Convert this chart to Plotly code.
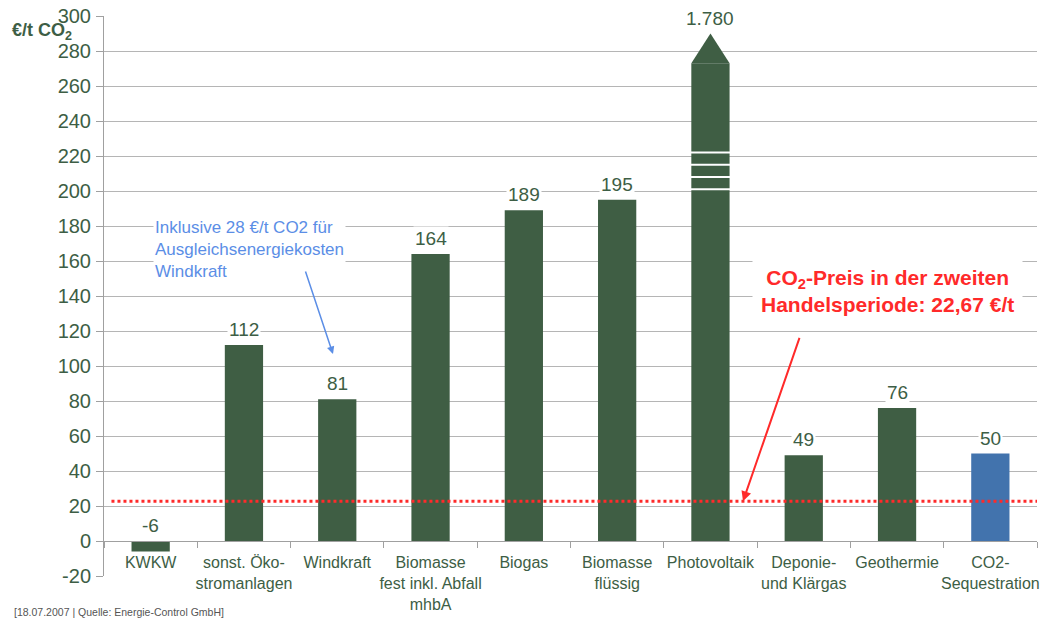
import plotly.graph_objects as go

categories = ["KWKW", "sonst. Öko-<br>stromanlagen", "Windkraft", "Biomasse<br>fest inkl. Abfall<br>mhbA",
              "Biogas", "Biomasse<br>flüssig", "Photovoltaik", "Deponie-<br>und Klärgas",
              "Geothermie", "CO2-<br>Sequestration"]
values = [-6, 112, 81, 164, 189, 195, 1780, 49, 76, 50]
labels = ["-6", "112", "81", "164", "189", "195", "1.780", "49", "76", "50"]
y_tickvals = [-20, 0, 20, 40, 60, 80, 100, 120, 140, 160, 180, 200, 220, 240, 260, 280, 300]
y_ticktext = ["-20", "0", "20", "40", "60", "80", "100", "120", "140", "160", "180", "200",
              "220", "240", "260", "280", "300"]
co2_price = 22.67

GREEN = "#3f5e44"
BLUE = "#4273ad"
TXT = "#3d5e45"
FONT = "Liberation Sans, Arial, sans-serif"
CAP = 273      # display cap for off-scale bar
TIP = 290      # arrow tip of off-scale bar
BW = 0.41      # bar width

W, H = 1046, 621
ML, MR, MT, MB = 104, 9, 16, 45
PW, PH = W - ML - MR, H - MT - MB


def px_x(px):
    return (px - ML) / PW


def px_y(py):
    return (H - MB - py) / PH


colors = [BLUE if i == len(values) - 1 else GREEN for i in range(len(values))]
shown = [min(v, CAP) for v in values]

fig = go.Figure()
fig.add_trace(go.Bar(x=categories, y=shown, marker=dict(color=colors, line=dict(width=0)),
                     width=BW, hoverinfo="skip"))

shapes = []
# red dotted price line
shapes.append(dict(type="line", xref="paper", yref="y", x0=0.008, x1=1, y0=co2_price, y1=co2_price,
                   line=dict(color="#ff2a2a", width=3, dash="dot"), layer="above"))
# arrow head for off-scale bar
big = values.index(max(values))
shapes.append(dict(type="path", xref="x", yref="y",
                   path=f"M {big-BW/2},{CAP} L {big},{TIP} L {big+BW/2},{CAP} Z",
                   fillcolor=GREEN, line=dict(width=0)))
for yv in [222, 215, 208, 201]:
    shapes.append(dict(type="line", xref="x", yref="y", x0=big-BW/2-0.01, x1=big+BW/2+0.01,
                       y0=yv, y1=yv, line=dict(color="white", width=2)))

annotations = []
for i, (v, lab) in enumerate(zip(values, labels)):
    yv = TIP if v > CAP else max(v, 0)
    annotations.append(dict(x=i, y=yv, xref="x", yref="y", text=lab, showarrow=False,
                            yanchor="bottom", yshift=3, bgcolor="white",
                            font=dict(size=19, color=TXT, family=FONT)))

annotations += [
    dict(x=px_x(10), y=px_y(31), xref="paper", yref="paper", xanchor="left", yanchor="middle",
         text="<b>€/t CO<sub>2</sub></b>", showarrow=False,
         font=dict(size=18, color=TXT, family=FONT)),
    dict(x=px_x(887), y=px_y(291), xref="paper", yref="paper", xanchor="center", yanchor="middle",
         text="<b>CO<sub>2</sub>-Preis in der zweiten<br>Handelsperiode: 22,67 €/t</b>",
         showarrow=False, font=dict(size=21, color="#ff2a2a", family=FONT), bgcolor="white",
         borderpad=8),
    dict(x=px_x(743), y=co2_price, xref="paper", yref="y", ax=57, ay=-165, text="", showarrow=True,
         arrowcolor="#ff2a2a", arrowwidth=2, arrowhead=2, arrowsize=1),
    dict(x=px_x(153), y=px_y(216), xref="paper", yref="paper", xanchor="left", yanchor="top",
         align="left",
         text="Inklusive 28 €/t CO2 für<br>Ausgleichsenergiekosten<br>Windkraft", showarrow=False,
         font=dict(size=17, color="#5b8ee6", family=FONT), bgcolor="white"),
    dict(x=px_x(333), y=px_y(354), xref="paper", yref="paper", ax=-28, ay=-84, text="",
         showarrow=True, arrowcolor="#5b8ee6", arrowwidth=1.5, arrowhead=2, arrowsize=1),
    dict(x=px_x(12), y=px_y(612), xref="paper", yref="paper", xanchor="left", yanchor="middle",
         text="[18.07.2007 | Quelle: Energie-Control GmbH]", showarrow=False,
         font=dict(size=10.5, color="#555555", family=FONT)),
]

fig.update_layout(
    width=W, height=H,
    margin=dict(l=ML, r=MR, t=MT, b=MB, autoexpand=False),
    paper_bgcolor="white", plot_bgcolor="white",
    showlegend=False, bargap=0.59,
    font=dict(family=FONT, color=TXT),
    shapes=shapes, annotations=annotations,
    xaxis=dict(type="category", anchor="free", position=20/320, showline=True,
               linecolor="#a0a0a0", linewidth=1, ticks="outside", ticklen=6, tickcolor="#a0a0a0",
               tickson="boundaries", showgrid=False, tickangle=0, automargin=False,
               ticklabelstandoff=7,
               tickfont=dict(size=16, color=TXT, family=FONT),
               range=[-0.5, 9.5], fixedrange=True),
    yaxis=dict(range=[-20, 300], tickmode="array", tickvals=y_tickvals, ticktext=y_ticktext,
               showgrid=True, gridcolor="#b5b5b5",
               gridwidth=1, zeroline=False, showline=True, linecolor="#a0a0a0", ticks="outside",
               ticklen=7, tickcolor="#a0a0a0", automargin=False,
               tickfont=dict(size=20, color=TXT, family=FONT), ticklabelstandoff=1),
)

fig.write_html("out.html")
